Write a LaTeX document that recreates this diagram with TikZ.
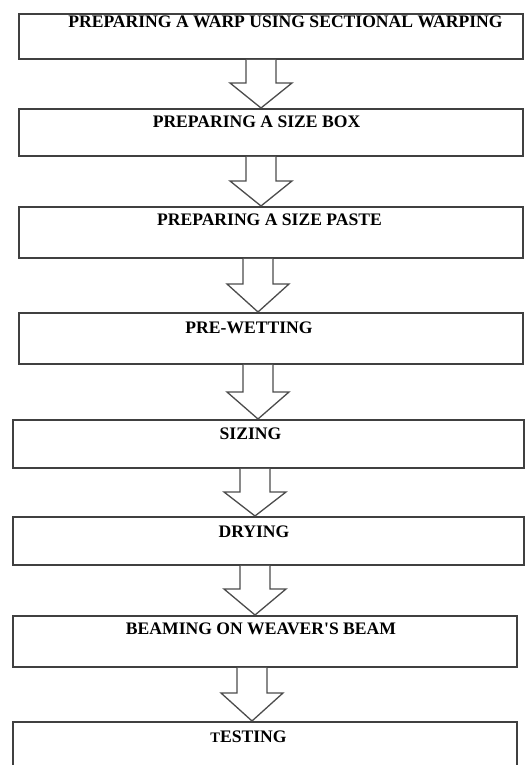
\documentclass[tikz,border=0pt]{standalone}
\usepackage{fontspec}
\setmainfont{Liberation Serif}
\usetikzlibrary{calc}
\tikzset{
  box/.style={draw=black!75, line width=1.8pt, rectangle, inner sep=0pt, anchor=north west, fill=none},
  lbl/.style={inner sep=0pt, anchor=base, font=\bfseries\fontsize{17.6}{20}\selectfont, text=black},
  arr/.style={draw=black!70, line width=1.3pt, line join=miter, fill=white}
}
\newcommand\flowarr[4]{%
  \draw[arr] let \p1=(#1.south), \p2=(#2.north) in
    ({#3-15pt},\y1) -- ({#3-15pt},#4) -- ({#3-31pt},#4) -- (#3,\y2)
    -- ({#3+31pt},#4) -- ({#3+15pt},#4) -- ({#3+15pt},\y1);
}
\begin{document}
\begin{tikzpicture}[x=1pt,y=1pt]
\useasboundingbox (0,0) rectangle (525,765);
\clip (0,0) rectangle (525,765);
\fill[white] (0,0) rectangle (525,765);
% boxes
\node[box, minimum width=504pt, minimum height=45pt] (b1) at (18,752) {};
\node[box, minimum width=504pt, minimum height=47pt] (b2) at (18,657) {};
\node[box, minimum width=504pt, minimum height=51pt] (b3) at (18,559) {};
\node[box, minimum width=504pt, minimum height=51pt] (b4) at (18,453) {};
\node[box, minimum width=511pt, minimum height=48pt] (b5) at (12,346) {};
\node[box, minimum width=511pt, minimum height=48pt] (b6) at (12,249) {};
\node[box, minimum width=504pt, minimum height=51pt] (b7) at (12,150) {};
\node[box, minimum width=504pt, minimum height=60pt] (b8) at (12,44) {};
% labels
\node[lbl] (t1) at (285.5,737) {PREPARING A WARP USING SECTIONAL WARPING};
\node[lbl] (t2) at (256.5,637) {PREPARING A SIZE BOX};
\node[lbl] (t3) at (269.5,539) {PREPARING A SIZE PASTE};
\node[lbl] (t4) at (249,431) {PRE-WETTING};
\node[lbl] (t5) at (250.5,325) {SIZING};
\node[lbl] (t6) at (254,227.5) {DRYING};
\node[lbl] (t7) at (261,130.5) {BEAMING ON WEAVER\textquotesingle S BEAM};
\node[lbl] (t8) at (248.5,22.5) {{\fontsize{14.5}{16}\selectfont T}ESTING};
% arrows
\flowarr{b1}{b2}{261pt}{682pt}
\flowarr{b2}{b3}{261pt}{584pt}
\flowarr{b3}{b4}{258pt}{481pt}
\flowarr{b4}{b5}{258pt}{373pt}
\flowarr{b5}{b6}{255pt}{273pt}
\flowarr{b6}{b7}{255pt}{176pt}
\flowarr{b7}{b8}{252pt}{72pt}
\end{tikzpicture}
\end{document}
